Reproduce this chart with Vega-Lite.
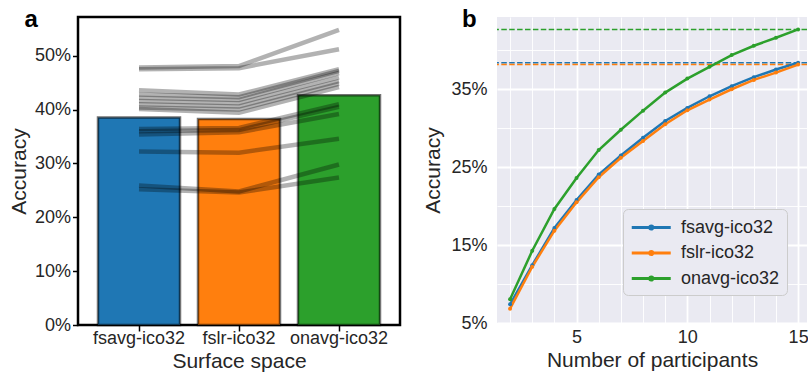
{
  "$schema": "https://vega.github.io/schema/vega-lite/v6.json",
  "padding": {"left": 7, "top": 6, "right": 0, "bottom": 0},
  "background": "white",
  "config": {
    "font": "Liberation Sans",
    "axis": {"labelFont": "Liberation Sans", "titleFont": "Liberation Sans", "labelFontSize": 18, "titleFontSize": 21, "titleFontWeight": "normal", "labelColor": "#262626", "titleColor": "#262626"},
    "title": {"font": "Liberation Sans"}
  },
  "datasets": {
    "parts": [
      {"p": 1, "surface": "fsavg-ico32", "acc": 0.478}, {"p": 1, "surface": "fslr-ico32", "acc": 0.481}, {"p": 1, "surface": "onavg-ico32", "acc": 0.548},
      {"p": 2, "surface": "fsavg-ico32", "acc": 0.475}, {"p": 2, "surface": "fslr-ico32", "acc": 0.477}, {"p": 2, "surface": "onavg-ico32", "acc": 0.512},
      {"p": 3, "surface": "fsavg-ico32", "acc": 0.436}, {"p": 3, "surface": "fslr-ico32", "acc": 0.428}, {"p": 3, "surface": "onavg-ico32", "acc": 0.475},
      {"p": 4, "surface": "fsavg-ico32", "acc": 0.428}, {"p": 4, "surface": "fslr-ico32", "acc": 0.423}, {"p": 4, "surface": "onavg-ico32", "acc": 0.472},
      {"p": 5, "surface": "fsavg-ico32", "acc": 0.422}, {"p": 5, "surface": "fslr-ico32", "acc": 0.418}, {"p": 5, "surface": "onavg-ico32", "acc": 0.468},
      {"p": 6, "surface": "fsavg-ico32", "acc": 0.416}, {"p": 6, "surface": "fslr-ico32", "acc": 0.412}, {"p": 6, "surface": "onavg-ico32", "acc": 0.460},
      {"p": 7, "surface": "fsavg-ico32", "acc": 0.410}, {"p": 7, "surface": "fslr-ico32", "acc": 0.406}, {"p": 7, "surface": "onavg-ico32", "acc": 0.453},
      {"p": 8, "surface": "fsavg-ico32", "acc": 0.404}, {"p": 8, "surface": "fslr-ico32", "acc": 0.400}, {"p": 8, "surface": "onavg-ico32", "acc": 0.448},
      {"p": 9, "surface": "fsavg-ico32", "acc": 0.401}, {"p": 9, "surface": "fslr-ico32", "acc": 0.394}, {"p": 9, "surface": "onavg-ico32", "acc": 0.442},
      {"p": 10, "surface": "fsavg-ico32", "acc": 0.364}, {"p": 10, "surface": "fslr-ico32", "acc": 0.366}, {"p": 10, "surface": "onavg-ico32", "acc": 0.410},
      {"p": 11, "surface": "fsavg-ico32", "acc": 0.360}, {"p": 11, "surface": "fslr-ico32", "acc": 0.362}, {"p": 11, "surface": "onavg-ico32", "acc": 0.405},
      {"p": 12, "surface": "fsavg-ico32", "acc": 0.354}, {"p": 12, "surface": "fslr-ico32", "acc": 0.358}, {"p": 12, "surface": "onavg-ico32", "acc": 0.392},
      {"p": 13, "surface": "fsavg-ico32", "acc": 0.322}, {"p": 13, "surface": "fslr-ico32", "acc": 0.320}, {"p": 13, "surface": "onavg-ico32", "acc": 0.346},
      {"p": 14, "surface": "fsavg-ico32", "acc": 0.259}, {"p": 14, "surface": "fslr-ico32", "acc": 0.248}, {"p": 14, "surface": "onavg-ico32", "acc": 0.298},
      {"p": 15, "surface": "fsavg-ico32", "acc": 0.252}, {"p": 15, "surface": "fslr-ico32", "acc": 0.246}, {"p": 15, "surface": "onavg-ico32", "acc": 0.274}
    ],
    "curve": [
      {"n": 2, "method": "fsavg-ico32", "acc": 0.0740}, {"n": 3, "method": "fsavg-ico32", "acc": 0.1242}, {"n": 4, "method": "fsavg-ico32", "acc": 0.1719},
      {"n": 5, "method": "fsavg-ico32", "acc": 0.2080}, {"n": 6, "method": "fsavg-ico32", "acc": 0.2407}, {"n": 7, "method": "fsavg-ico32", "acc": 0.2652},
      {"n": 8, "method": "fsavg-ico32", "acc": 0.2879}, {"n": 9, "method": "fsavg-ico32", "acc": 0.3094}, {"n": 10, "method": "fsavg-ico32", "acc": 0.3262},
      {"n": 11, "method": "fsavg-ico32", "acc": 0.3412}, {"n": 12, "method": "fsavg-ico32", "acc": 0.3542}, {"n": 13, "method": "fsavg-ico32", "acc": 0.3657},
      {"n": 14, "method": "fsavg-ico32", "acc": 0.3755}, {"n": 15, "method": "fsavg-ico32", "acc": 0.3842},
      {"n": 2, "method": "fslr-ico32", "acc": 0.0684}, {"n": 3, "method": "fslr-ico32", "acc": 0.1222}, {"n": 4, "method": "fslr-ico32", "acc": 0.1686},
      {"n": 5, "method": "fslr-ico32", "acc": 0.2050}, {"n": 6, "method": "fslr-ico32", "acc": 0.2372}, {"n": 7, "method": "fslr-ico32", "acc": 0.2622},
      {"n": 8, "method": "fslr-ico32", "acc": 0.2836}, {"n": 9, "method": "fslr-ico32", "acc": 0.3052}, {"n": 10, "method": "fslr-ico32", "acc": 0.3232},
      {"n": 11, "method": "fslr-ico32", "acc": 0.3369}, {"n": 12, "method": "fslr-ico32", "acc": 0.3502}, {"n": 13, "method": "fslr-ico32", "acc": 0.3622},
      {"n": 14, "method": "fslr-ico32", "acc": 0.3716}, {"n": 15, "method": "fslr-ico32", "acc": 0.3819},
      {"n": 2, "method": "onavg-ico32", "acc": 0.0804}, {"n": 3, "method": "onavg-ico32", "acc": 0.1428}, {"n": 4, "method": "onavg-ico32", "acc": 0.1964},
      {"n": 5, "method": "onavg-ico32", "acc": 0.2362}, {"n": 6, "method": "onavg-ico32", "acc": 0.2722}, {"n": 7, "method": "onavg-ico32", "acc": 0.2982},
      {"n": 8, "method": "onavg-ico32", "acc": 0.3227}, {"n": 9, "method": "onavg-ico32", "acc": 0.3459}, {"n": 10, "method": "onavg-ico32", "acc": 0.3639},
      {"n": 11, "method": "onavg-ico32", "acc": 0.3790}, {"n": 12, "method": "onavg-ico32", "acc": 0.3941}, {"n": 13, "method": "onavg-ico32", "acc": 0.4061},
      {"n": 14, "method": "onavg-ico32", "acc": 0.4164}, {"n": 15, "method": "onavg-ico32", "acc": 0.4271}
    ]
  },
  "spacing": 97,
  "bounds": "flush",
  "resolve": {"scale": {"color": "independent", "x": "independent", "y": "independent"}, "legend": {"color": "independent"}},
  "hconcat": [
    {
      "width": 322,
      "height": 308,
      "view": {"stroke": "black", "strokeWidth": 2.5, "fill": "white"},
      "title": {"text": "a", "anchor": "start", "frame": "bounds", "fontSize": 24, "fontWeight": "bold", "color": "black", "offset": -15, "dx": 16},
      "data": {"name": "parts"},
      "layer": [
        {
          "mark": {"type": "bar", "stroke": "black", "strokeOpacity": 0.55, "strokeWidth": 2.5},
          "encoding": {
            "x": {"field": "surface", "type": "nominal", "sort": ["fsavg-ico32", "fslr-ico32", "onavg-ico32"],
                  "scale": {"paddingInner": 0.18, "paddingOuter": 0.2},
                  "axis": {"title": "Surface space", "labelAngle": 0, "tickSize": 6, "tickWidth": 1.5, "tickColor": "black", "domain": false, "grid": false, "labelPadding": -2, "titlePadding": 3}},
            "y": {"aggregate": "mean", "field": "acc", "type": "quantitative",
                  "scale": {"domain": [0, 0.572], "nice": false, "zero": true},
                  "axis": {"title": "Accuracy", "format": ".0%", "values": [0, 0.1, 0.2, 0.3, 0.4, 0.5], "tickSize": 5.5, "tickWidth": 1.5, "tickColor": "black", "domain": false, "grid": false, "labelPadding": 2, "titlePadding": 5, "labelFlush": false}},
            "color": {"field": "surface", "type": "nominal", "scale": {"domain": ["fsavg-ico32", "fslr-ico32", "onavg-ico32"], "range": ["#1f77b4", "#ff7f0e", "#2ca02c"]}, "legend": null}
          }
        },
        {
          "mark": {"type": "line", "color": "black", "opacity": 0.3, "strokeWidth": 4.5},
          "encoding": {
            "x": {"field": "surface", "type": "nominal", "sort": ["fsavg-ico32", "fslr-ico32", "onavg-ico32"]},
            "y": {"field": "acc", "type": "quantitative"},
            "detail": {"field": "p", "type": "nominal"}
          }
        }
      ]
    },
    {
      "width": 310,
      "height": 306,
      "view": {"fill": "#eaeaf2", "stroke": null},
      "title": {"text": "b", "anchor": "start", "frame": "bounds", "fontSize": 24, "fontWeight": "bold", "color": "black", "offset": -15, "dx": 39},
      "data": {"name": "curve"},
      "layer": [
        {
          "mark": {"type": "rule", "strokeDash": [5.5, 2.4], "strokeWidth": 1.5},
          "transform": [{"filter": "datum.n == 15"}],
          "encoding": {
            "y": {"field": "acc", "type": "quantitative"},
            "color": {"field": "method", "type": "nominal"}
          }
        },
        {
          "mark": {"type": "line", "strokeWidth": 2.5, "point": {"filled": true, "size": 16}},
          "encoding": {
            "x": {"field": "n", "type": "quantitative",
                  "scale": {"domain": [1.41, 15.4], "nice": false, "zero": false},
                  "axis": {"title": "Number of participants", "values": [2, 3, 4, 5, 6, 7, 8, 9, 10, 11, 12, 13, 14, 15],
                           "labelExpr": "datum.value % 5 == 0 ? datum.label : ''", "labelOverlap": false, "labelFlush": false,
                           "ticks": false, "domain": false, "grid": true, "gridColor": "white",
                           "gridWidth": {"condition": {"test": "datum.value % 5 == 0", "value": 1.8}, "value": 0.9},
                           "labelPadding": 5, "titlePadding": 3}},
            "y": {"field": "acc", "type": "quantitative",
                  "scale": {"domain": [0.05, 0.443], "nice": false, "zero": false},
                  "axis": {"title": "Accuracy", "format": ".0%", "values": [0.05, 0.1, 0.15, 0.2, 0.25, 0.3, 0.35, 0.4],
                           "labelExpr": "round(datum.value * 100) % 10 == 5 ? datum.label : ''", "labelOverlap": false, "labelFlush": false,
                           "ticks": false, "domain": false, "grid": true, "gridColor": "white",
                           "gridWidth": {"condition": {"test": "round(datum.value * 100) % 10 == 5", "value": 1.8}, "value": 0.9},
                           "labelPadding": 10, "titlePadding": 7}},
            "color": {"field": "method", "type": "nominal",
                      "scale": {"domain": ["fsavg-ico32", "fslr-ico32", "onavg-ico32"], "range": ["#1f77b4", "#ff7f0e", "#2ca02c"]},
                      "legend": {"title": null, "orient": "none", "legendX": 126, "legendY": 192,
                                 "symbolType": "M-1,0H3M1.16,0A0.16,0.16 0 1,1 0.84,0A0.16,0.16 0 1,1 1.16,0",
                                 "symbolSize": 380, "symbolStrokeWidth": 3,
                                 "labelFontSize": 18, "labelFont": "Liberation Sans", "labelColor": "#262626", "labelOffset": 28,
                                 "fillColor": "#eaeaf2", "strokeColor": "#cccccc", "cornerRadius": 5, "padding": 7, "rowPadding": 4.5}}
          }
        }
      ]
    }
  ]
}
